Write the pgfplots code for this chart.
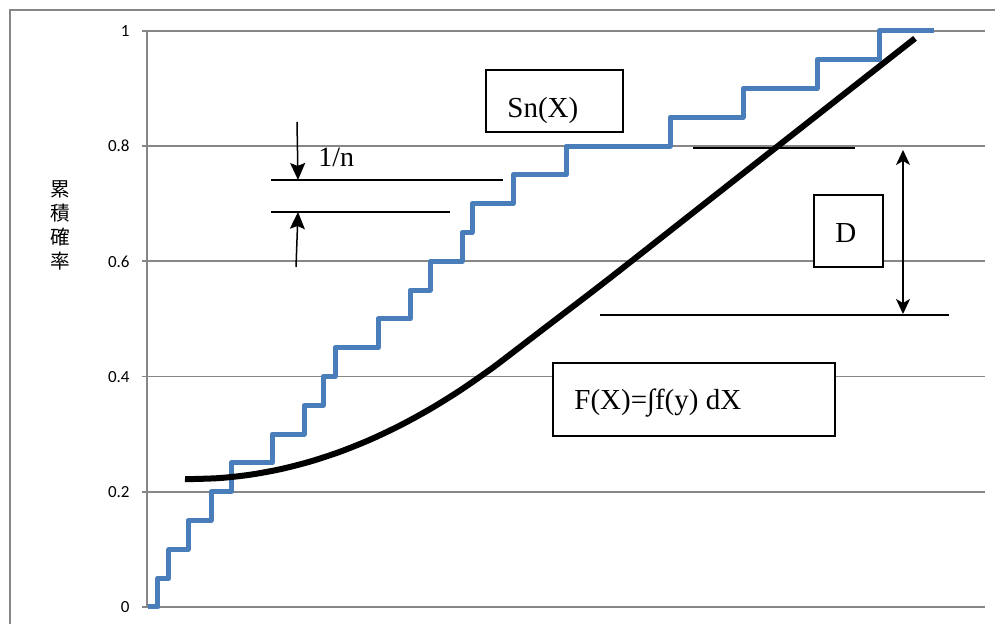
\documentclass[border=0pt]{standalone}
\usepackage{fontspec}
\usepackage{pgfplots}
\pgfplotsset{compat=1.18}
\usetikzlibrary{arrows.meta}
\setmainfont{Liberation Serif}
\newfontfamily\carlito{Carlito}
\newfontfamily\cjk{Noto Sans CJK JP}
\definecolor{gridgray}{HTML}{878787}
\definecolor{stepblue}{HTML}{4A7EBB}
\begin{document}
\begin{tikzpicture}
\useasboundingbox (0,0) rectangle (497.5pt,312pt);
\begin{axis}[
  at={(73.5pt,8.5pt)}, anchor=south west,
  scale only axis, width=419pt, height=288pt,
  xmin=147, xmax=985, ymin=0, ymax=1,
  clip=false,
  xtick=\empty,
  ytick={0,0.2,0.4,0.6,0.8,1},
  yticklabels={0,0.2,0.4,0.6,0.8,1},
  axis x line=bottom, axis y line=left,
  axis line style={-, draw=gridgray, line width=0.9pt},
  ymajorgrids, grid style={draw=gridgray, line width=0.9pt},
  tick align=outside, major tick length=2.5pt,
  tick style={draw=gridgray, line width=0.9pt},
  yticklabel style={font=\carlito\fontsize{8.5}{10}\selectfont, anchor=east, inner sep=0pt, xshift=-6pt},
  /pgf/number format/assume math mode=true,
  every axis y label/.style={at={(axis description cs:-0.1038,0.663)}, anchor=center},
  ylabel={\cjk\fontsize{9.8}{10.5}\selectfont\shortstack{累\\積\\確\\率}},
]
\addplot[const plot, color=stepblue, line width=2.5pt, line join=round] coordinates {
(148,0) (158,0.05) (169,0.10) (188,0.15) (211,0.20) (231,0.25) (272,0.30) (304,0.35)
(323,0.40) (335,0.45) (378,0.50) (410,0.55) (430,0.60) (462,0.65) (472,0.70) (513,0.75)
(566,0.80) (670,0.85) (743,0.90) (817,0.95) (879,1.00) (934,1.00)
};
\addplot[smooth, color=black, line width=3pt] coordinates {
(185,0.2220) (190,0.2220) (220,0.2239) (250,0.2296) (280,0.2391) (310,0.2524)
(340,0.2695) (370,0.2904) (400,0.3151) (430,0.3436) (460,0.3759) (490,0.4120)
(505,0.4315) (540,0.4781) (607,0.5672) (700,0.6940) (800,0.8304) (915,0.9872)
};
\end{axis}
\begin{scope}[yshift=312pt, x=0.5pt, y=-0.5pt]
  \draw[gridgray, line width=1pt] (10,630) -- (10,10) -- (1000,10);
  % Sn(X) box
  \draw[black, line width=0.9pt, fill=white] (486,70) rectangle (623,132);
  \node[anchor=base west, inner sep=0pt, font=\fontsize{14.5}{16}\selectfont] at (507,118) {Sn(X)};
  % 1/n
  \node[anchor=base west, inner sep=0pt, font=\fontsize{14}{16}\selectfont] at (318,167) {1/n};
  \draw[black, line width=0.75pt] (271,180) -- (503,180);
  \draw[black, line width=0.75pt] (271,212) -- (450,212);
  \draw[black, line width=0.75pt, -{Stealth[length=8.5pt,width=7.5pt,inset=1.5pt]}] (297,122) -- (298,180);
  \draw[black, line width=0.75pt, -{Stealth[length=8.5pt,width=7.5pt,inset=1.5pt]}] (296,267) -- (298,212);
  % D
  \draw[black, line width=0.75pt] (693,148) -- (855,148);
  \draw[black, line width=0.75pt, {Stealth[length=7.5pt,width=7pt,inset=2pt]}-{Stealth[length=7.5pt,width=7pt,inset=2pt]}] (903,150) -- (903,314);
  \draw[black, line width=0.75pt] (600,315) -- (949,315);
  \draw[black, line width=0.9pt, fill=white] (814,195) rectangle (883,267);
  \node[anchor=base west, inner sep=0pt, font=\fontsize{14.5}{16}\selectfont] at (835,243) {D};
  % F(X)
  \draw[black, line width=0.9pt, fill=white] (553,363) rectangle (835,436);
  \node[anchor=base west, inner sep=0pt, font=\fontsize{14.5}{16}\selectfont] at (574,410) {F(X)=∫f(y) dX};
\end{scope}
\end{tikzpicture}
\end{document}
